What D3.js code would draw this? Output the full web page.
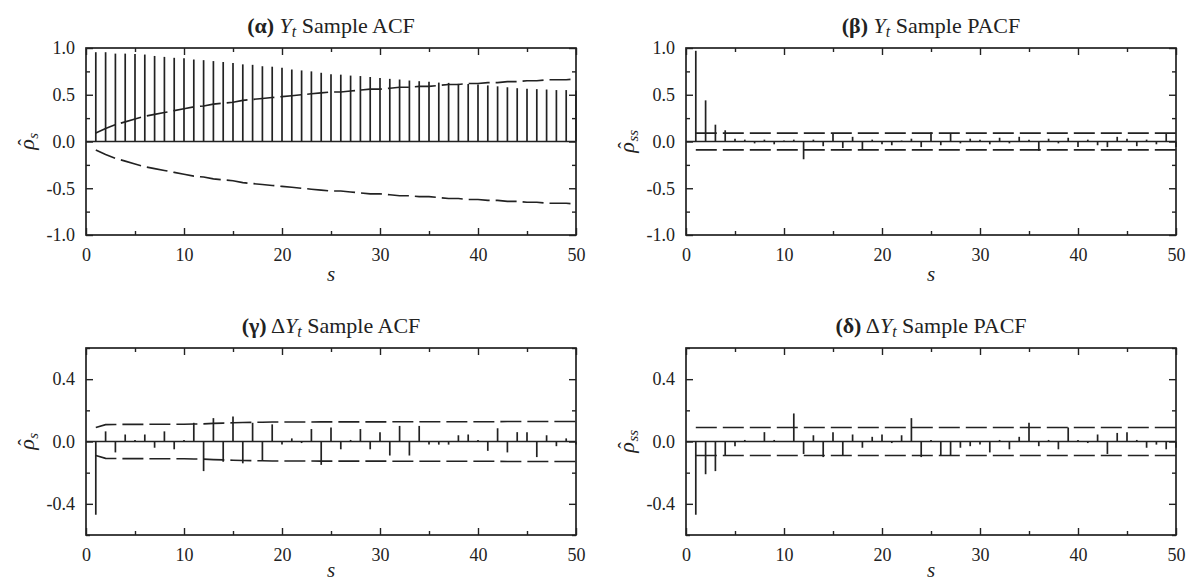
<!DOCTYPE html>
<html><head><meta charset="utf-8">
<script src="https://cdn.jsdelivr.net/npm/d3@7"></script>
<style>
html,body{margin:0;padding:0;background:#fff;}
svg{display:block;font-family:"Liberation Serif","Times New Roman",serif;}
</style></head>
<body>
<svg id="chart" width="1189" height="584"></svg>
<script>
// ---------------- data ----------------
const lags = d3.range(1, 51);
const xMajorTicks = [0, 10, 20, 30, 40, 50];
const xMinorTicks = [5, 15, 25, 35, 45];

// (α) sample ACF of Y_t
const acfY = [0.955,0.955,0.94,0.94,0.935,0.93,0.915,0.905,0.895,0.89,
              0.877,0.87,0.86,0.85,0.84,0.825,0.82,0.805,0.80,0.79,
              0.77,0.76,0.75,0.735,0.72,0.715,0.705,0.70,0.69,0.68,
              0.67,0.663,0.652,0.645,0.638,0.63,0.627,0.617,0.615,0.61,
              0.60,0.59,0.58,0.57,0.565,0.56,0.556,0.55,0.55,0.545];
const boundACFY = [0.09,0.14,0.18,0.21,0.24,0.27,0.29,0.31,0.33,0.35,
                   0.37,0.38,0.40,0.41,0.42,0.44,0.45,0.46,0.47,0.48,
                   0.49,0.50,0.51,0.52,0.53,0.53,0.54,0.55,0.56,0.56,
                   0.57,0.58,0.58,0.59,0.59,0.60,0.61,0.61,0.62,0.62,
                   0.63,0.63,0.64,0.64,0.65,0.65,0.66,0.66,0.66,0.67];

// (β) sample PACF of Y_t
const pacfY = [0.97,0.44,0.18,0.12,0.03,0.02,-0.02,0.02,-0.03,0.01,
               0.02,-0.19,0.02,-0.05,0.09,-0.07,0.05,-0.08,0.02,-0.03,
               -0.04,0.01,0.03,-0.06,0.10,-0.04,0.08,-0.02,0.03,0.02,
               -0.03,0.04,-0.02,0.05,0.02,-0.10,0.03,-0.02,0.04,-0.06,
               0.02,-0.04,-0.06,0.05,0.03,-0.05,0.02,-0.03,0.08,-0.06];
const boundPACFY = 0.09;

// (γ) sample ACF of ΔY_t
const acfD = [-0.47,0.065,-0.07,0.045,0.01,0.045,-0.04,0.065,-0.05,0.01,
              0.12,-0.19,0.15,-0.13,0.16,-0.14,0.12,-0.12,0.11,-0.02,
              0.02,-0.01,0.08,-0.15,0.09,-0.05,0.01,0.08,-0.05,0.06,
              -0.09,0.10,-0.09,0.10,-0.02,-0.02,-0.02,0.04,0.045,0.01,
              -0.06,0.085,-0.07,0.06,0.06,-0.10,0.04,-0.03,0.02,-0.02];
const boundACFD = [0.09,0.108,0.109,0.110,0.110,0.110,0.111,0.111,0.111,0.111,
                   0.112,0.113,0.116,0.118,0.120,0.122,0.123,0.124,0.125,0.125,
                   0.125,0.125,0.125,0.126,0.126,0.126,0.126,0.126,0.126,0.126,
                   0.126,0.127,0.127,0.127,0.127,0.127,0.127,0.127,0.127,0.127,
                   0.127,0.127,0.128,0.128,0.128,0.128,0.128,0.128,0.128,0.128];

// (δ) sample PACF of ΔY_t
const pacfD = [-0.47,-0.21,-0.19,-0.09,-0.03,0.01,0.00,0.06,0.01,0.00,
               0.18,-0.08,0.04,-0.10,0.06,-0.09,0.045,-0.04,0.03,0.045,
               -0.01,0.04,0.15,-0.10,0.01,-0.09,-0.09,-0.04,-0.03,-0.02,
               -0.07,0.01,-0.05,0.03,0.12,-0.03,0.01,-0.05,0.09,0.01,
               -0.01,0.045,-0.08,0.055,0.06,0.01,-0.04,-0.02,-0.05,-0.04];
const boundPACFD = 0.09;

const yTicksBig = [-1, -0.5, 0, 0.5, 1];
const yMinorBig = [-0.75, -0.25, 0.25, 0.75];
const yTicksSmall = [-0.4, 0, 0.4];
const yMinorSmall = [-0.6, -0.2, 0.2, 0.6];

// ---------------- drawing ----------------
const svg = d3.select("#chart");
const PW = 490, PH = 187;
const ink = "#222";

function panel(cfg) {
  const x = d3.scaleLinear().domain([0, 50]).range([cfg.left, cfg.left + PW]);
  const y = d3.scaleLinear().domain(cfg.domain).range([cfg.top + PH, cfg.top]);
  const g = svg.append("g");
  const fmt = v => v.toFixed(1);

  // bars
  g.append("g").selectAll("line").data(lags).join("line")
    .attr("x1", d => x(d)).attr("x2", d => x(d))
    .attr("y1", y(0)).attr("y2", (d, i) => y(cfg.values[i]))
    .attr("stroke", ink).attr("stroke-width", 1.7);

  // zero line
  g.append("line").attr("x1", x(0)).attr("x2", x(50)).attr("y1", y(0)).attr("y2", y(0))
    .attr("stroke", ink).attr("stroke-width", 1.7);

  // bounds
  const bnd = i => Array.isArray(cfg.bound) ? cfg.bound[i] : cfg.bound;
  const line = d3.line().x(d => x(d[0])).y(d => y(d[1]));
  [1, -1].forEach(sgn => {
    g.append("path").datum(lags.map((s, i) => [s, sgn * bnd(i)]))
      .attr("d", line).attr("fill", "none").attr("stroke", ink)
      .attr("stroke-width", 1.6).attr("stroke-dasharray", "21,6");
  });

  // axes ticks
  const styleAxis = sel => { sel.select(".domain").remove(); sel.selectAll("line").attr("stroke", ink).attr("stroke-width", 1.4);
    sel.selectAll("text").attr("fill", ink).style("font-size", "18px").style("font-family", "Liberation Serif"); };
  styleAxis(g.append("g").attr("transform", `translate(0,${cfg.top + PH})`)
    .call(d3.axisBottom(x).tickValues(xMajorTicks).tickSize(-7).tickPadding(13).tickFormat(d => d)));
  styleAxis(g.append("g").attr("transform", `translate(0,${cfg.top + PH})`)
    .call(d3.axisBottom(x).tickValues(xMinorTicks).tickSize(-4).tickFormat("")));
  styleAxis(g.append("g").attr("transform", `translate(0,${cfg.top})`)
    .call(d3.axisTop(x).tickValues(xMajorTicks).tickSize(-7).tickFormat("")));
  styleAxis(g.append("g").attr("transform", `translate(0,${cfg.top})`)
    .call(d3.axisTop(x).tickValues(xMinorTicks).tickSize(-4).tickFormat("")));
  styleAxis(g.append("g").attr("transform", `translate(${cfg.left},0)`)
    .call(d3.axisLeft(y).tickValues(cfg.yTicks).tickSize(-7).tickPadding(11).tickFormat(fmt)));
  styleAxis(g.append("g").attr("transform", `translate(${cfg.left},0)`)
    .call(d3.axisLeft(y).tickValues(cfg.yMinor).tickSize(-4).tickFormat("")));
  styleAxis(g.append("g").attr("transform", `translate(${cfg.left + PW},0)`)
    .call(d3.axisRight(y).tickValues(cfg.yTicks).tickSize(-7).tickFormat("")));
  styleAxis(g.append("g").attr("transform", `translate(${cfg.left + PW},0)`)
    .call(d3.axisRight(y).tickValues(cfg.yMinor).tickSize(-4).tickFormat("")));

  // frame
  g.append("rect").attr("x", cfg.left).attr("y", cfg.top).attr("width", PW).attr("height", PH)
    .attr("fill", "none").attr("stroke", ink).attr("stroke-width", 1.7);

  // title
  const t = g.append("text").attr("x", cfg.left + PW / 2).attr("y", cfg.top - 15)
    .attr("text-anchor", "middle").style("font-size", "22px").attr("fill", ink);
  t.append("tspan").attr("font-weight", "bold").text(cfg.letter);
  t.append("tspan").text(cfg.delta ? " \u0394" : " ");
  t.append("tspan").attr("font-style", "italic").text("Y");
  t.append("tspan").attr("font-style", "italic").style("font-size", "16px").attr("dy", 4).text("t");
  t.append("tspan").attr("dy", -4).text(" Sample " + cfg.kind);

  // x label
  g.append("text").attr("x", cfg.left + PW / 2).attr("y", cfg.top + PH + cfg.sGap)
    .attr("text-anchor", "middle").style("font-size", "21px").attr("font-style", "italic")
    .attr("fill", ink).text("s");

  // y label (rotated): rho with hat and subscript
  const yl = g.append("g")
    .attr("transform", `translate(${cfg.left - 58},${cfg.top + PH / 2}) rotate(-90)`);
  const inner = yl.append("g");
  const rho = inner.append("text").attr("x", 0).attr("y", 0).style("font-size", "22px")
    .attr("font-style", "italic").attr("fill", ink).text("\u03C1");
  const rw = rho.node().getComputedTextLength();
  inner.append("text").attr("x", rw / 2 + 2).attr("y", -1).attr("text-anchor", "middle")
    .style("font-size", "20px").attr("fill", ink).text("\u02C6");
  const sub = inner.append("text").attr("x", rw + 0.5).attr("y", 4).style("font-size", "15px")
    .attr("font-style", "italic").attr("fill", ink).text(cfg.sub);
  const sw = sub.node().getComputedTextLength();
  inner.attr("transform", `translate(${-(rw + sw) / 2},6)`);
}

panel({left: 86, top: 48, domain: [-1, 1], values: acfY, bound: boundACFY, sGap: 46,
  yTicks: yTicksBig, yMinor: yMinorBig, letter: "(\u03B1)", delta: false, kind: "ACF", sub: "s"});
panel({left: 686, top: 48, domain: [-1, 1], values: pacfY, bound: boundPACFY, sGap: 46,
  yTicks: yTicksBig, yMinor: yMinorBig, letter: "(\u03B2)", delta: false, kind: "PACF", sub: "ss"});
panel({left: 86, top: 348, domain: [-0.6, 0.6], values: acfD, bound: boundACFD, sGap: 42,
  yTicks: yTicksSmall, yMinor: yMinorSmall, letter: "(\u03B3)", delta: true, kind: "ACF", sub: "s"});
panel({left: 686, top: 348, domain: [-0.6, 0.6], values: pacfD, bound: boundPACFD, sGap: 42,
  yTicks: yTicksSmall, yMinor: yMinorSmall, letter: "(\u03B4)", delta: true, kind: "PACF", sub: "ss"});
</script>
</body></html>
